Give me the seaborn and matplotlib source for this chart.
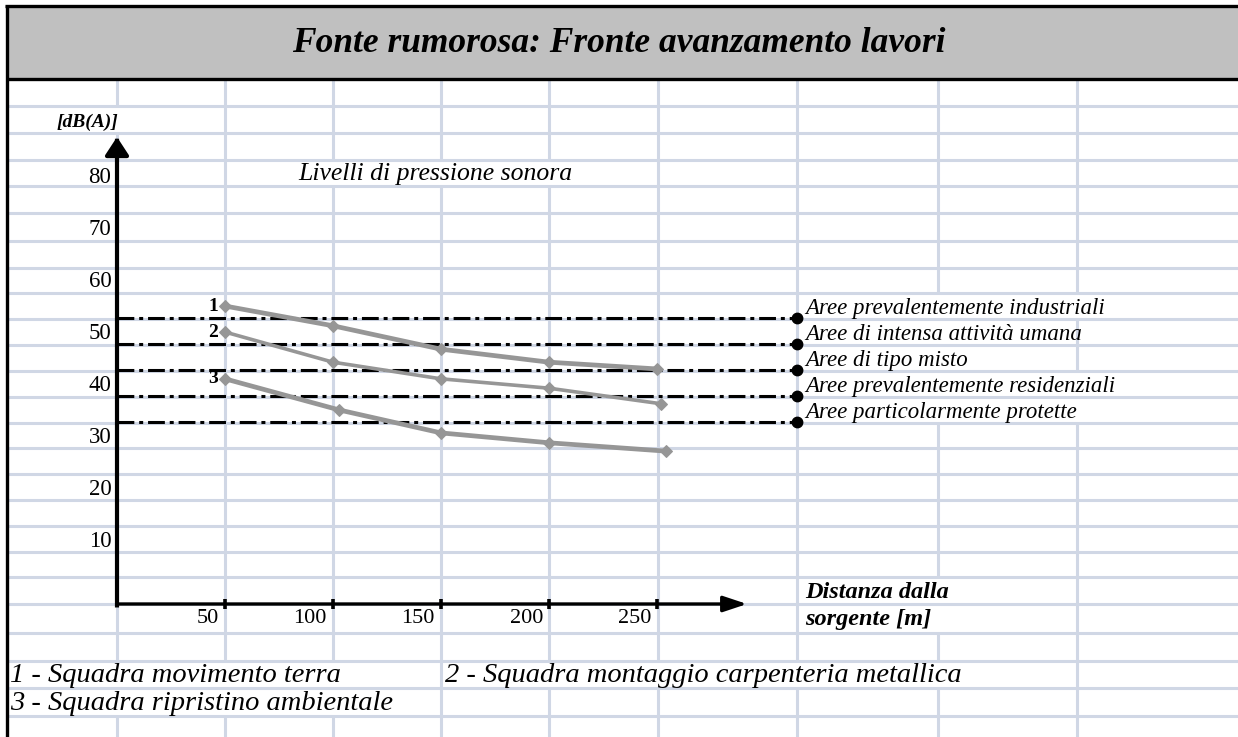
import numpy as np
import pandas as pd
import matplotlib
matplotlib.use("Agg")
import matplotlib.pyplot as plt
import matplotlib.transforms as mtransforms
import seaborn as sns

# ---- data -------------------------------------------------------------
team_ids = ["1", "2", "3"]
dist_1 = [50, 100, 150, 200, 250]
level_1 = [57.3, 53.5, 49.0, 46.5, 45.2]
dist_2 = [50, 100, 150, 200, 252]
level_2 = [52.3, 46.5, 43.3, 41.5, 38.5]
dist_3 = [50, 103, 150, 200, 254]
level_3 = [43.3, 37.3, 32.9, 31.0, 29.4]

zone_limits = [55, 50, 45, 40, 35]
zone_labels = [
    "Aree prevalentemente industriali",
    "Aree di intensa attività umana",
    "Aree di tipo misto",
    "Aree prevalentemente residenziali",
    "Aree particolarmente protette",
]
x_ticks = [50, 100, 150, 200, 250]
y_ticks = [10, 20, 30, 40, 50, 60, 70, 80]
team_names = [
    "1 - Squadra movimento terra",
    "2 - Squadra montaggio carpenteria metallica",
    "3 - Squadra ripristino ambientale",
]
title_text = "Fonte rumorosa: Fronte avanzamento lavori"

# ---- style ------------------------------------------------------------
sns.set_style("white")
plt.rcParams["font.family"] = ["Liberation Serif", "DejaVu Serif"]
plt.rcParams["text.color"] = "black"
plt.rcParams["xtick.color"] = "black"
plt.rcParams["ytick.color"] = "black"
plt.rcParams["xtick.labelcolor"] = "black"
plt.rcParams["ytick.labelcolor"] = "black"

W, H = 1238, 737
DPI = 100
GRID = "#d0d7e5"
LINE_GRAY = "#969696"
BAND = "#c0c0c0"

fig = plt.figure(figsize=(W / DPI, H / DPI), dpi=DPI)
fig.patch.set_facecolor("white")

# ---- worksheet background (pixel coordinates) -------------------------
bg = fig.add_axes([0, 0, 1, 1], zorder=0)
bg.set_xlim(0, W)
bg.set_ylim(H, 0)
bg.axis("off")

row_edges = [80, 106, 133, 160, 186, 213, 241, 268, 293, 319, 345, 371, 397,
             423, 448, 474, 500, 526, 552, 577, 604, 633, 661, 688, 716, 737]
col_edges = [117, 225, 333, 441, 549, 658, 797, 938, 1077]
# cells whose left border is covered by overflowing text
covered = {(117, 106), (333, 160), (441, 160), (549, 160),
           (938, 293), (938, 319), (938, 345), (938, 371), (938, 397),
           (1077, 293), (1077, 371), (1077, 397),
           (938, 577), (938, 604),
           (117, 661), (225, 661), (333, 661), (549, 661), (658, 661),
           (797, 661), (938, 661),
           (117, 688), (225, 688), (333, 688)}

for y in row_edges[1:-1]:
    bg.plot([8, W], [y, y], color=GRID, lw=2.2, solid_capstyle="butt")
for x in col_edges:
    for top, bot in zip(row_edges[:-1], row_edges[1:]):
        if (x, top) not in covered:
            bg.plot([x, x], [top, bot], color=GRID, lw=2.2, solid_capstyle="butt")

# title band and outer frame
bg.fill_between([7, W], 7, 78, color=BAND, lw=0)
bg.plot([5, W], [6, 6], color="black", lw=2.4, solid_capstyle="butt")
bg.plot([7, W], [78.5, 78.5], color="black", lw=2.4, solid_capstyle="butt")
bg.plot([7, 7], [5, H], color="black", lw=2.4, solid_capstyle="butt")

bg.text(619, 52, title_text, ha="center", va="baseline", fontsize=25.5,
        fontweight="bold", style="italic")
bg.text(118, 127, "[dB(A)]", ha="right", va="baseline", fontsize=14,
        fontweight="bold", style="italic")
bg.text(298, 180, "Livelli di pressione sonora", ha="left", va="baseline",
        fontsize=18.5, style="italic")
bg.text(805, 598, "Distanza dalla", ha="left", va="baseline", fontsize=17.5,
        fontweight="bold", style="italic")
bg.text(805, 625, "sorgente [m]", ha="left", va="baseline", fontsize=17.5,
        fontweight="bold", style="italic")
bg.text(10, 682, team_names[0], ha="left", va="baseline", fontsize=20.5, style="italic")
bg.text(445, 682, team_names[1], ha="left", va="baseline", fontsize=20.5, style="italic")
bg.text(10, 710, team_names[2], ha="left", va="baseline", fontsize=20.5, style="italic")

# ---- chart axes ---------------------------------------------------------
ox, oy = 117, 604          # origin of the chart in pixels
xend, yend = 747, 137      # arrow tips in pixels
ax = fig.add_axes([ox / W, 1 - oy / H, (xend - ox) / W, (oy - yend) / H], zorder=2)
ax.set_facecolor("none")
ax.set_xlim(0, 291.7)
ax.set_ylim(0, 89.8)
for s in ax.spines.values():
    s.set_visible(False)

# axis arrows
ax.annotate("", xy=(0, 1), xytext=(0, -0.003), xycoords="axes fraction",
            arrowprops=dict(arrowstyle="-|>,head_length=0.55,head_width=0.36",
                            color="black", lw=3.0, shrinkA=0, shrinkB=0,
                            mutation_scale=20, capstyle="projecting"))
ax.annotate("", xy=(1, 0), xytext=(0, 0), xycoords="axes fraction",
            arrowprops=dict(arrowstyle="-|>,head_length=0.72,head_width=0.24",
                            color="black", lw=2.4, shrinkA=0, shrinkB=0,
                            mutation_scale=20))

# ticks
ax.set_xticks(x_ticks)
ax.set_xticklabels([str(v) for v in x_ticks])
ax.tick_params(axis="x", direction="inout", length=7.5, width=2.6, color="black",
               labelsize=16, pad=0, bottom=True, labelcolor="black")
shift_x = mtransforms.ScaledTranslation(-6 / DPI, 0, fig.dpi_scale_trans)
for lab in ax.get_xticklabels():
    lab.set_ha("right")
    lab.set_transform(lab.get_transform() + shift_x)

ax.set_yticks(y_ticks)
ax.set_yticklabels([str(v) for v in y_ticks])
ax.tick_params(axis="y", length=0, labelsize=16.5, pad=4, left=True, labelcolor="black")
shift_y = mtransforms.ScaledTranslation(0, 13 / DPI, fig.dpi_scale_trans)
for lab in ax.get_yticklabels():
    lab.set_transform(lab.get_transform() + shift_y)

# zone limit lines
zone_end = 315
for v, lab in zip(zone_limits, zone_labels):
    ax.plot([0, zone_end], [v, v], color="black", lw=2.2,
            dashes=(5.5, 1.6, 1.3, 1.6), clip_on=False, zorder=2)
    ax.plot([zone_end], [v], marker="o", color="black", ms=7.5, clip_on=False, zorder=3)
    ax.annotate(lab, (zone_end, v), xytext=(5.8, 3), textcoords="offset points",
                ha="left", va="baseline", fontsize=16.5, style="italic",
                annotation_clip=False)

# noise level curves
frames = []
for t, d, l in zip(team_ids, [dist_1, dist_2, dist_3], [level_1, level_2, level_3]):
    frames.append(pd.DataFrame({"team": t, "dist": d, "level": l}))
df = pd.concat(frames, ignore_index=True)

widths = {"1": 3.4, "2": 2.6, "3": 3.4}
for t in team_ids:
    sub = df[df["team"] == t]
    sns.lineplot(data=sub, x="dist", y="level", ax=ax, color=LINE_GRAY,
                 lw=widths[t], marker="D", markersize=6, markeredgecolor=LINE_GRAY,
                 estimator=None, sort=False, legend=False, clip_on=False, zorder=4)
    ax.annotate(t, (sub["dist"].iloc[0], sub["level"].iloc[0]), xytext=(-5, 0),
                textcoords="offset points", ha="right", va="center",
                fontsize=14, fontweight="bold")

ax.set_xlabel("")
ax.set_ylabel("")

fig.savefig("out.png", dpi=DPI)
